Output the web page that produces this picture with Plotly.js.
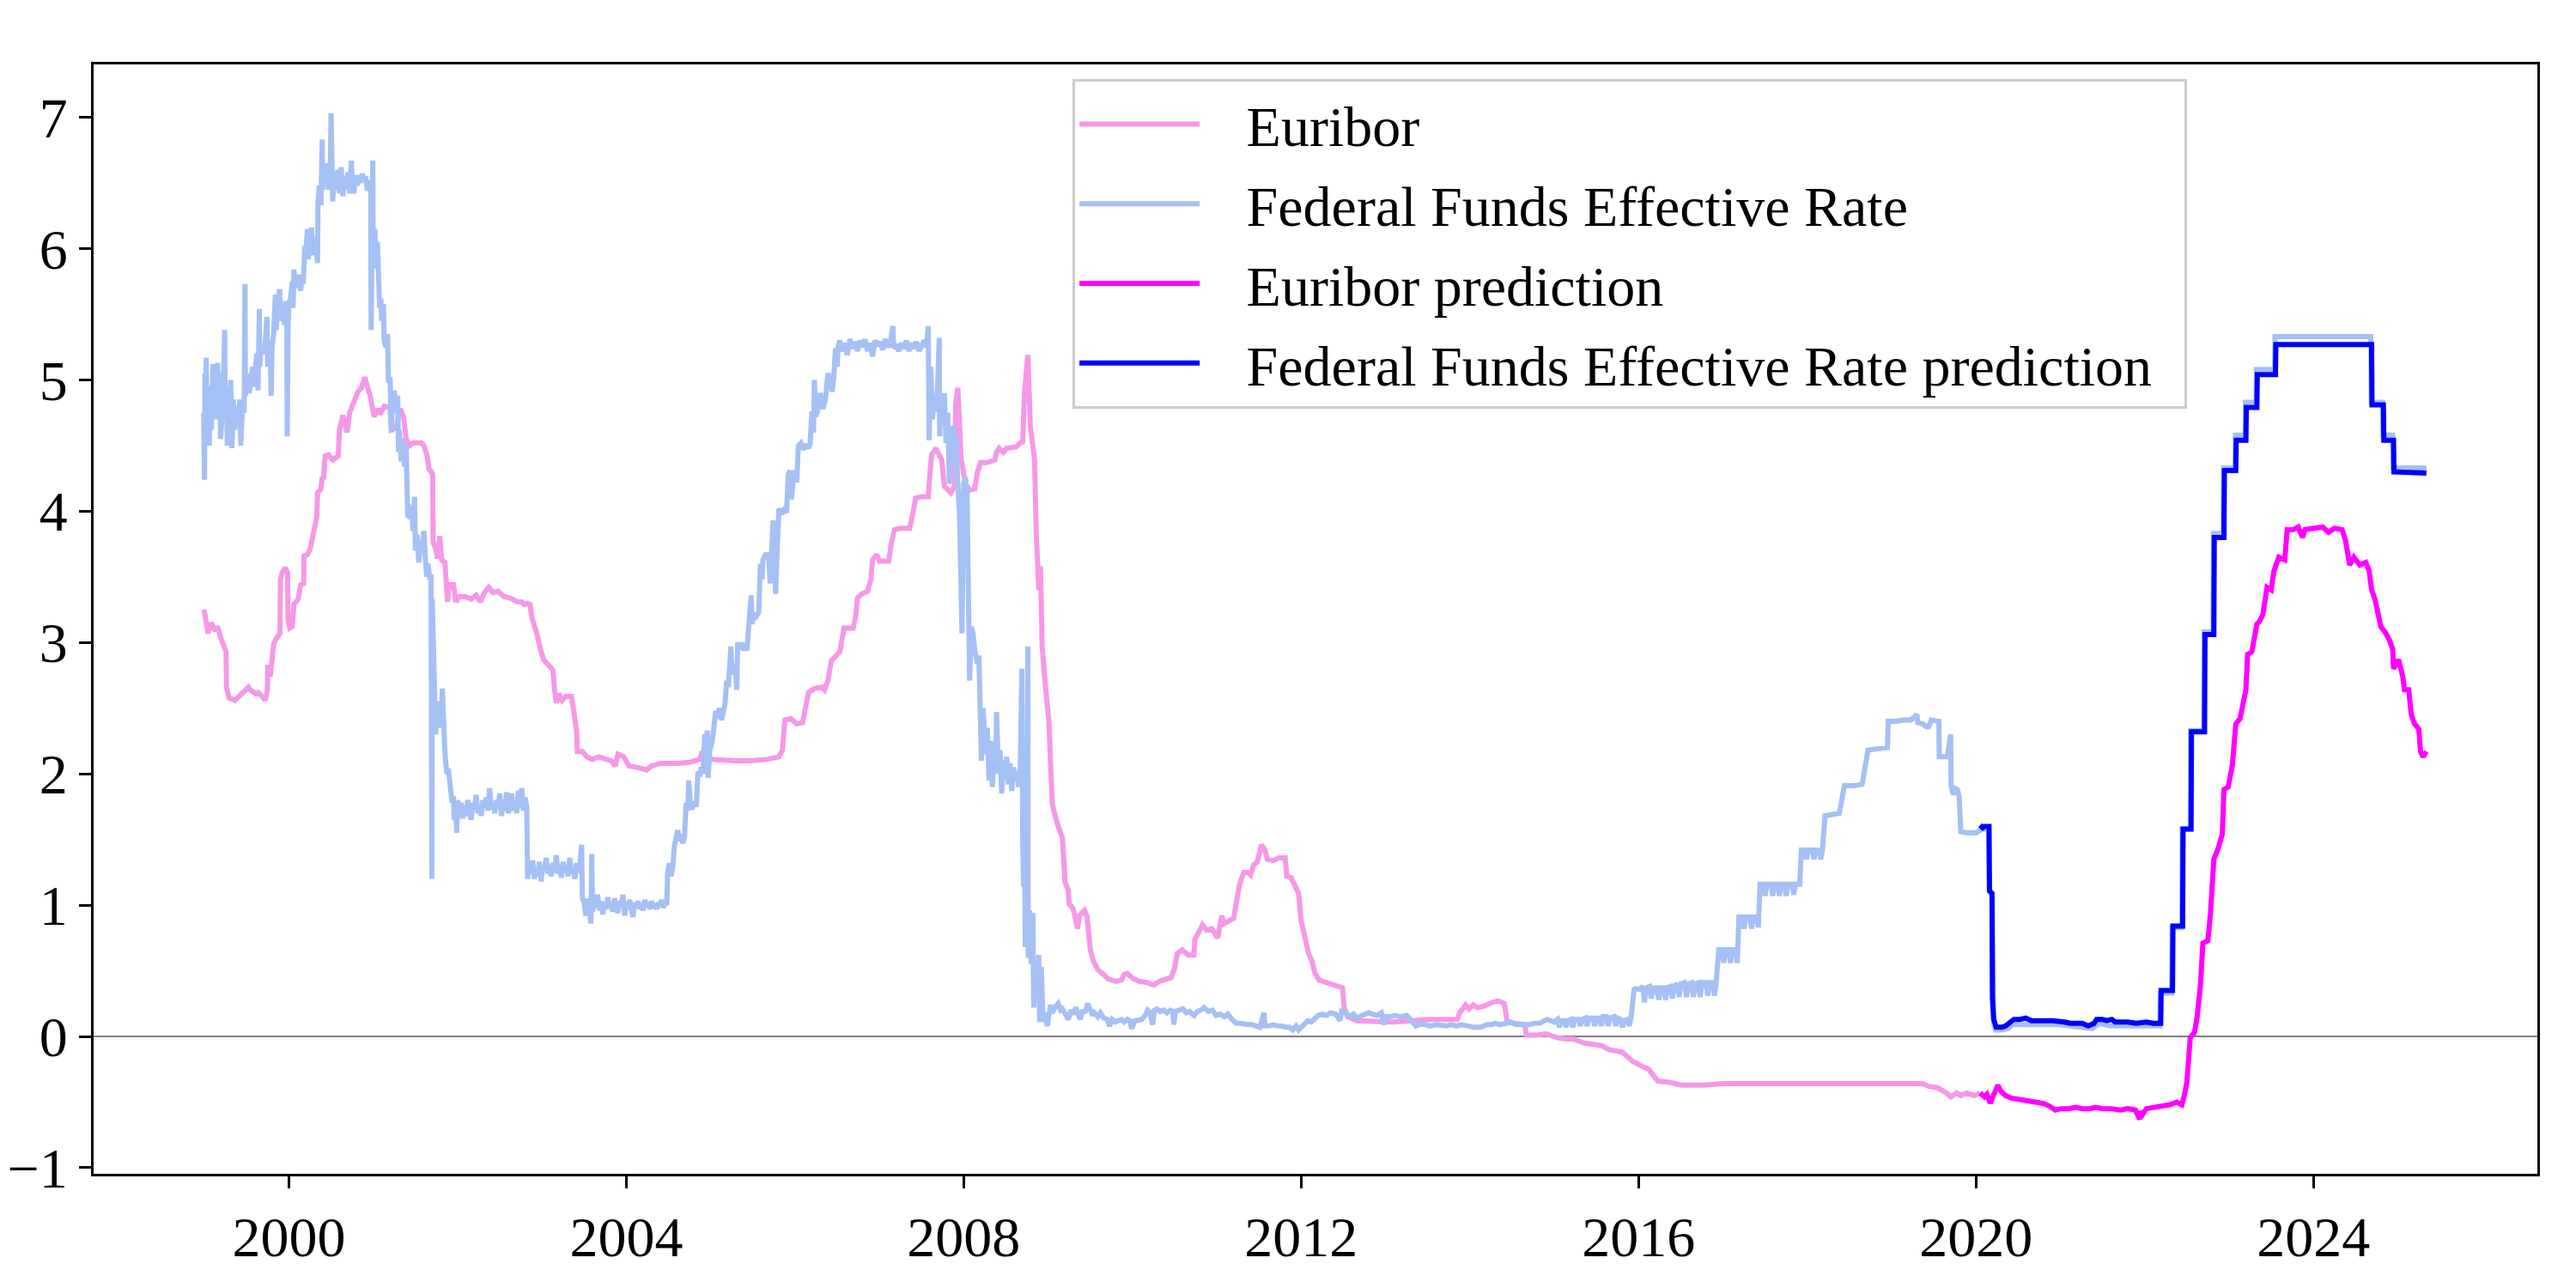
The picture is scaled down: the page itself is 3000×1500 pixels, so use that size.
<!DOCTYPE html>
<html>
<head>
<meta charset="utf-8">
<script src="https://cdn.plot.ly/plotly-3.0.1.min.js"></script>
<style>html,body{margin:0;padding:0;background:#fff;}#chart{width:3000px;height:1500px;}</style>
</head>
<body>
<div id="chart"></div>
<script>
// ---- data: [decimal year, rate %] ----
const euribor = [
[1998.99,3.25],[1999.01,3.20],[1999.04,3.07],[1999.08,3.15],[1999.12,3.10],[1999.16,3.11],[1999.19,3.04],[1999.22,2.99],[1999.255,2.93],[1999.26,2.66],[1999.29,2.58],[1999.36,2.56],[1999.43,2.60],[1999.48,2.64],[1999.52,2.66],[1999.54,2.64],[1999.61,2.61],[1999.64,2.62],[1999.68,2.59],[1999.72,2.56],[1999.745,2.64],[1999.75,2.83],[1999.78,2.74],[1999.80,2.90],[1999.82,2.99],[1999.85,3.03],[1999.895,3.07],[1999.90,3.48],[1999.92,3.53],[1999.955,3.57],[1999.985,3.53],[1999.99,3.17],[2000.01,3.11],[2000.04,3.12],[2000.06,3.29],[2000.11,3.33],[2000.14,3.44],[2000.175,3.45],[2000.18,3.66],[2000.22,3.67],[2000.25,3.71],[2000.27,3.77],[2000.31,3.91],[2000.33,3.95],[2000.34,4.14],[2000.38,4.17],[2000.395,4.26],[2000.41,4.24],[2000.43,4.42],[2000.47,4.43],[2000.52,4.39],[2000.585,4.42],[2000.60,4.62],[2000.64,4.73],[2000.69,4.60],[2000.72,4.75],[2000.75,4.80],[2000.82,4.91],[2000.86,4.94],[2000.90,5.02],[2000.93,4.95],[2000.96,4.89],[2001.01,4.72],[2001.05,4.78],[2001.08,4.74],[2001.13,4.80],[2001.20,4.79],[2001.215,4.62],[2001.25,4.63],[2001.28,4.66],[2001.32,4.78],[2001.36,4.72],[2001.39,4.55],[2001.43,4.50],[2001.47,4.52],[2001.57,4.52],[2001.60,4.50],[2001.64,4.42],[2001.66,4.32],[2001.68,4.31],[2001.705,4.28],[2001.71,3.76],[2001.74,3.72],[2001.76,3.64],[2001.79,3.81],[2001.81,3.63],[2001.85,3.61],[2001.87,3.43],[2001.88,3.31],[2001.90,3.44],[2001.95,3.44],[2001.98,3.31],[2002.02,3.35],[2002.09,3.35],[2002.16,3.33],[2002.22,3.36],[2002.27,3.31],[2002.32,3.38],[2002.37,3.42],[2002.42,3.38],[2002.48,3.39],[2002.55,3.35],[2002.62,3.34],[2002.71,3.31],[2002.76,3.31],[2002.79,3.29],[2002.83,3.30],[2002.86,3.29],[2002.88,3.19],[2002.93,3.09],[2002.96,3.00],[2002.99,2.93],[2003.02,2.87],[2003.09,2.82],[2003.13,2.79],[2003.15,2.64],[2003.17,2.54],[2003.20,2.61],[2003.24,2.56],[2003.28,2.59],[2003.35,2.59],[2003.37,2.51],[2003.41,2.33],[2003.42,2.17],[2003.48,2.17],[2003.53,2.13],[2003.60,2.11],[2003.67,2.13],[2003.74,2.12],[2003.82,2.10],[2003.87,2.06],[2003.90,2.15],[2003.97,2.13],[2004.03,2.06],[2004.13,2.05],[2004.24,2.03],[2004.30,2.06],[2004.41,2.08],[2004.62,2.08],[2004.76,2.09],[2004.87,2.11],[2004.90,2.17],[2004.93,2.12],[2005.04,2.11],[2005.29,2.10],[2005.46,2.10],[2005.67,2.11],[2005.81,2.13],[2005.85,2.18],[2005.88,2.41],[2005.95,2.42],[2006.02,2.38],[2006.09,2.39],[2006.13,2.53],[2006.16,2.62],[2006.23,2.65],[2006.32,2.66],[2006.35,2.64],[2006.39,2.71],[2006.43,2.86],[2006.48,2.90],[2006.53,2.93],[2006.57,3.07],[2006.58,3.11],[2006.69,3.11],[2006.72,3.20],[2006.74,3.34],[2006.79,3.37],[2006.86,3.39],[2006.90,3.48],[2006.92,3.63],[2006.97,3.67],[2007.00,3.62],[2007.11,3.62],[2007.14,3.75],[2007.18,3.86],[2007.25,3.87],[2007.36,3.87],[2007.39,3.96],[2007.43,4.10],[2007.49,4.11],[2007.58,4.11],[2007.60,4.29],[2007.62,4.43],[2007.67,4.48],[2007.71,4.42],[2007.74,4.39],[2007.77,4.19],[2007.85,4.14],[2007.89,4.19],[2007.905,4.82],[2007.93,4.94],[2007.945,4.77],[2007.97,4.39],[2008.02,4.21],[2008.07,4.16],[2008.13,4.17],[2008.16,4.29],[2008.20,4.37],[2008.27,4.37],[2008.37,4.39],[2008.39,4.45],[2008.42,4.48],[2008.47,4.45],[2008.51,4.48],[2008.62,4.49],[2008.67,4.52],[2008.70,4.53],[2008.72,4.90],[2008.74,5.13],[2008.76,5.19],[2008.79,4.65],[2008.84,4.39],[2008.86,3.83],[2008.89,3.40],[2008.91,3.58],[2008.93,2.97],[2008.97,2.66],[2009.01,2.40],[2009.03,2.07],[2009.05,1.77],[2009.10,1.64],[2009.17,1.51],[2009.19,1.31],[2009.20,1.18],[2009.24,1.11],[2009.25,1.01],[2009.29,0.98],[2009.31,0.94],[2009.35,0.82],[2009.37,0.92],[2009.40,0.94],[2009.43,0.96],[2009.46,0.92],[2009.48,0.77],[2009.50,0.66],[2009.54,0.57],[2009.59,0.51],[2009.66,0.47],[2009.71,0.44],[2009.80,0.42],[2009.87,0.43],[2009.90,0.47],[2009.94,0.48],[2010.01,0.44],[2010.08,0.42],[2010.18,0.41],[2010.25,0.39],[2010.32,0.42],[2010.46,0.45],[2010.50,0.52],[2010.53,0.63],[2010.59,0.66],[2010.66,0.62],[2010.73,0.62],[2010.74,0.74],[2010.80,0.81],[2010.83,0.85],[2010.88,0.81],[2010.94,0.82],[2011.01,0.75],[2011.06,0.92],[2011.09,0.86],[2011.15,0.88],[2011.20,0.90],[2011.23,1.01],[2011.27,1.16],[2011.32,1.25],[2011.37,1.25],[2011.40,1.23],[2011.44,1.31],[2011.48,1.33],[2011.51,1.40],[2011.53,1.46],[2011.57,1.42],[2011.60,1.35],[2011.67,1.34],[2011.74,1.36],[2011.81,1.36],[2011.83,1.22],[2011.88,1.21],[2011.93,1.14],[2011.97,1.09],[2012.00,0.88],[2012.04,0.75],[2012.09,0.63],[2012.13,0.57],[2012.16,0.49],[2012.21,0.43],[2012.34,0.40],[2012.44,0.38],[2012.49,0.37],[2012.51,0.22],[2012.55,0.15],[2012.66,0.12],[2012.90,0.11],[2013.08,0.11],[2013.32,0.12],[2013.50,0.13],[2013.71,0.13],[2013.85,0.13],[2013.88,0.18],[2013.95,0.24],[2013.99,0.21],[2014.04,0.24],[2014.09,0.22],[2014.16,0.23],[2014.27,0.26],[2014.34,0.27],[2014.41,0.25],[2014.44,0.12],[2014.51,0.10],[2014.65,0.09],[2014.67,0.01],[2014.79,0.01],[2014.90,0.02],[2015.04,-0.01],[2015.14,-0.02],[2015.23,-0.02],[2015.35,-0.05],[2015.42,-0.06],[2015.56,-0.07],[2015.65,-0.10],[2015.81,-0.12],[2015.86,-0.15],[2015.93,-0.19],[2016.05,-0.23],[2016.12,-0.25],[2016.18,-0.30],[2016.23,-0.34],[2016.37,-0.35],[2016.51,-0.37],[2016.76,-0.37],[2017.00,-0.36],[2017.50,-0.36],[2018.00,-0.36],[2018.50,-0.36],[2019.00,-0.36],[2019.33,-0.355],[2019.37,-0.36],[2019.44,-0.38],[2019.54,-0.39],[2019.65,-0.43],[2019.70,-0.46],[2019.77,-0.43],[2019.82,-0.45],[2019.89,-0.43],[2019.98,-0.45],[2020.05,-0.43]
];
const fedFunds = [
[1998.99,4.75],[1999.00,4.24],[1999.005,5.05],[1999.01,4.70],[1999.02,5.17],[1999.03,4.60],[1999.045,4.95],[1999.055,4.50],[1999.07,4.90],[1999.08,4.62],[1999.10,5.12],[1999.11,4.75],[1999.13,5.10],[1999.14,4.70],[1999.155,5.13],[1999.165,4.78],[1999.18,5.05],[1999.19,4.55],[1999.215,4.80],[1999.24,5.38],[1999.245,4.70],[1999.26,4.95],[1999.27,4.50],[1999.285,4.93],[1999.30,4.62],[1999.31,5.00],[1999.325,4.48],[1999.34,4.85],[1999.36,4.62],[1999.38,4.80],[1999.40,4.72],[1999.42,4.85],[1999.43,4.50],[1999.45,4.80],[1999.47,4.75],[1999.48,5.73],[1999.485,4.88],[1999.50,4.95],[1999.52,5.05],[1999.53,4.90],[1999.55,5.02],[1999.57,5.10],[1999.58,4.95],[1999.60,5.15],[1999.62,5.20],[1999.635,4.92],[1999.65,5.54],[1999.655,5.10],[1999.67,5.25],[1999.70,5.20],[1999.72,5.28],[1999.74,5.48],[1999.75,5.10],[1999.775,5.30],[1999.79,4.88],[1999.80,5.25],[1999.82,5.35],[1999.84,5.65],[1999.85,5.38],[1999.87,5.60],[1999.89,5.69],[1999.90,5.45],[1999.92,5.55],[1999.95,5.42],[1999.96,5.60],[1999.975,5.50],[1999.98,4.57],[1999.99,5.40],[2000.00,5.58],[2000.02,5.62],[2000.04,5.75],[2000.05,5.55],[2000.06,5.84],[2000.08,5.70],[2000.10,5.80],[2000.12,5.72],[2000.14,5.68],[2000.16,5.80],[2000.17,5.73],[2000.19,6.02],[2000.20,5.95],[2000.22,6.15],[2000.23,5.92],[2000.25,6.10],[2000.27,6.16],[2000.28,5.95],[2000.30,6.08],[2000.32,6.05],[2000.34,5.89],[2000.345,6.35],[2000.36,6.48],[2000.38,6.33],[2000.395,6.83],[2000.40,6.45],[2000.42,6.62],[2000.43,6.50],[2000.45,6.65],[2000.47,6.45],[2000.49,6.55],[2000.50,7.03],[2000.505,6.48],[2000.52,6.36],[2000.54,6.58],[2000.56,6.45],[2000.58,6.60],[2000.60,6.42],[2000.62,6.62],[2000.64,6.40],[2000.66,6.55],[2000.68,6.45],[2000.70,6.58],[2000.72,6.42],[2000.74,6.67],[2000.75,6.50],[2000.77,6.42],[2000.79,6.56],[2000.81,6.48],[2000.83,6.56],[2000.85,6.50],[2000.87,6.57],[2000.89,6.52],[2000.91,6.55],[2000.93,6.44],[2000.95,6.52],[2000.97,6.45],[2000.975,5.38],[2000.985,6.00],[2000.995,6.67],[2001.00,5.95],[2001.02,6.15],[2001.03,5.85],[2001.05,6.05],[2001.06,5.80],[2001.075,5.55],[2001.09,5.62],[2001.10,5.45],[2001.12,5.58],[2001.13,5.30],[2001.15,5.25],[2001.17,5.35],[2001.18,4.98],[2001.20,5.02],[2001.215,4.60],[2001.23,4.85],[2001.25,4.92],[2001.27,4.75],[2001.29,4.88],[2001.30,4.45],[2001.31,4.62],[2001.33,4.38],[2001.35,4.55],[2001.37,4.34],[2001.39,4.50],[2001.40,4.20],[2001.41,3.95],[2001.42,4.05],[2001.44,3.94],[2001.46,4.02],[2001.47,3.85],[2001.49,4.11],[2001.50,3.70],[2001.52,3.82],[2001.54,3.61],[2001.56,3.78],[2001.58,3.68],[2001.60,3.85],[2001.62,3.62],[2001.635,3.50],[2001.65,3.60],[2001.67,3.48],[2001.685,3.52],[2001.69,3.05],[2001.695,1.20],[2001.70,3.33],[2001.71,2.95],[2001.72,3.10],[2001.73,2.70],[2001.74,2.30],[2001.75,2.55],[2001.77,2.48],[2001.79,2.52],[2001.80,2.35],[2001.82,2.65],[2001.83,2.41],[2001.845,2.23],[2001.86,2.08],[2001.875,2.00],[2001.89,2.04],[2001.90,1.96],[2001.92,1.88],[2001.935,1.78],[2001.95,1.83],[2001.96,1.65],[2001.975,1.75],[2001.99,1.55],[2002.00,1.80],[2002.02,1.70],[2002.04,1.78],[2002.06,1.66],[2002.08,1.76],[2002.10,1.68],[2002.12,1.80],[2002.14,1.72],[2002.16,1.65],[2002.18,1.78],[2002.20,1.73],[2002.22,1.84],[2002.24,1.70],[2002.26,1.76],[2002.28,1.68],[2002.30,1.80],[2002.32,1.74],[2002.34,1.82],[2002.36,1.72],[2002.38,1.89],[2002.40,1.73],[2002.42,1.78],[2002.44,1.70],[2002.46,1.80],[2002.48,1.74],[2002.50,1.85],[2002.52,1.68],[2002.54,1.77],[2002.56,1.72],[2002.58,1.86],[2002.60,1.70],[2002.62,1.75],[2002.64,1.85],[2002.66,1.72],[2002.68,1.78],[2002.70,1.70],[2002.72,1.87],[2002.74,1.74],[2002.76,1.89],[2002.78,1.72],[2002.80,1.82],[2002.82,1.75],[2002.83,1.20],[2002.85,1.30],[2002.87,1.24],[2002.89,1.34],[2002.91,1.20],[2002.93,1.28],[2002.95,1.22],[2002.97,1.33],[2002.99,1.18],[2003.01,1.30],[2003.03,1.26],[2003.05,1.36],[2003.07,1.24],[2003.09,1.30],[2003.11,1.22],[2003.13,1.32],[2003.15,1.25],[2003.17,1.38],[2003.19,1.24],[2003.21,1.30],[2003.23,1.21],[2003.25,1.33],[2003.27,1.25],[2003.29,1.30],[2003.31,1.22],[2003.33,1.36],[2003.35,1.24],[2003.37,1.28],[2003.39,1.20],[2003.41,1.32],[2003.43,1.25],[2003.45,1.30],[2003.47,1.46],[2003.48,1.05],[2003.50,1.02],[2003.52,0.92],[2003.54,1.05],[2003.56,0.98],[2003.58,0.86],[2003.59,1.39],[2003.60,0.95],[2003.62,1.05],[2003.64,0.98],[2003.66,1.08],[2003.68,0.96],[2003.70,1.03],[2003.72,0.93],[2003.74,1.02],[2003.76,0.97],[2003.78,1.06],[2003.80,0.98],[2003.82,1.02],[2003.84,0.95],[2003.86,1.05],[2003.88,1.00],[2003.90,0.94],[2003.92,1.03],[2003.94,0.98],[2003.96,1.08],[2003.98,0.92],[2004.00,1.02],[2004.02,0.97],[2004.04,1.04],[2004.06,0.99],[2004.08,0.91],[2004.10,1.02],[2004.12,0.98],[2004.14,1.03],[2004.16,0.97],[2004.18,1.01],[2004.20,0.96],[2004.22,1.04],[2004.24,0.99],[2004.26,1.02],[2004.28,0.97],[2004.30,1.03],[2004.32,0.98],[2004.34,1.01],[2004.36,0.97],[2004.38,1.02],[2004.40,0.99],[2004.42,1.04],[2004.44,0.98],[2004.46,1.02],[2004.48,1.00],[2004.49,1.25],[2004.51,1.32],[2004.53,1.22],[2004.55,1.28],[2004.57,1.45],[2004.59,1.52],[2004.61,1.57],[2004.63,1.49],[2004.65,1.54],[2004.67,1.47],[2004.69,1.52],[2004.71,1.78],[2004.73,1.72],[2004.74,1.95],[2004.76,1.77],[2004.78,1.73],[2004.80,1.79],[2004.83,1.75],[2004.85,2.02],[2004.87,1.98],[2004.89,2.05],[2004.91,2.00],[2004.93,2.30],[2004.95,2.25],[2004.96,2.33],[2004.97,1.97],[2004.99,2.18],[2005.02,2.25],[2005.06,2.48],[2005.08,2.42],[2005.10,2.50],[2005.13,2.41],[2005.15,2.48],[2005.17,2.53],[2005.19,2.71],[2005.21,2.66],[2005.24,2.97],[2005.25,2.80],[2005.27,2.76],[2005.29,2.84],[2005.31,2.64],[2005.32,3.00],[2005.35,2.95],[2005.37,3.00],[2005.39,2.94],[2005.41,2.98],[2005.43,2.94],[2005.46,3.19],[2005.48,3.36],[2005.49,3.14],[2005.51,3.22],[2005.54,3.20],[2005.57,3.23],[2005.59,3.60],[2005.61,3.48],[2005.62,3.63],[2005.66,3.68],[2005.69,3.63],[2005.705,3.45],[2005.72,3.66],[2005.74,3.93],[2005.755,3.70],[2005.77,3.37],[2005.79,3.73],[2005.81,4.02],[2005.84,3.98],[2005.87,4.01],[2005.90,3.99],[2005.92,4.28],[2005.94,4.31],[2005.96,4.09],[2005.98,4.26],[2006.00,4.31],[2006.02,4.22],[2006.04,4.50],[2006.07,4.52],[2006.10,4.47],[2006.13,4.51],[2006.16,4.48],[2006.18,4.52],[2006.20,4.76],[2006.22,4.60],[2006.23,5.00],[2006.245,4.72],[2006.27,4.77],[2006.30,4.90],[2006.33,4.78],[2006.36,4.85],[2006.39,5.05],[2006.42,5.00],[2006.44,4.91],[2006.46,5.02],[2006.48,5.24],[2006.50,5.10],[2006.51,5.25],[2006.53,5.30],[2006.56,5.22],[2006.59,5.28],[2006.62,5.19],[2006.65,5.31],[2006.68,5.24],[2006.71,5.29],[2006.74,5.22],[2006.77,5.30],[2006.80,5.25],[2006.83,5.31],[2006.86,5.22],[2006.89,5.28],[2006.92,5.18],[2006.95,5.30],[2006.98,5.26],[2007.01,5.29],[2007.04,5.23],[2007.07,5.31],[2007.10,5.25],[2007.13,5.28],[2007.16,5.41],[2007.17,5.24],[2007.20,5.27],[2007.23,5.22],[2007.26,5.28],[2007.29,5.24],[2007.32,5.30],[2007.35,5.22],[2007.38,5.28],[2007.41,5.24],[2007.44,5.29],[2007.47,5.22],[2007.50,5.27],[2007.53,5.30],[2007.56,5.25],[2007.58,5.41],[2007.59,4.54],[2007.61,5.10],[2007.63,4.70],[2007.65,4.88],[2007.67,4.76],[2007.69,4.95],[2007.71,5.32],[2007.715,4.57],[2007.73,4.85],[2007.75,4.65],[2007.77,4.90],[2007.79,4.52],[2007.81,4.75],[2007.83,4.21],[2007.85,4.55],[2007.88,4.65],[2007.90,4.35],[2007.91,4.57],[2007.93,4.21],[2007.95,3.98],[2007.98,3.07],[2008.00,4.21],[2008.02,4.26],[2008.04,4.14],[2008.05,3.63],[2008.07,2.71],[2008.09,3.12],[2008.11,3.07],[2008.13,2.95],[2008.16,2.84],[2008.18,2.90],[2008.20,2.53],[2008.21,2.10],[2008.23,2.50],[2008.24,2.35],[2008.26,2.15],[2008.28,2.35],[2008.30,1.95],[2008.32,2.25],[2008.34,1.90],[2008.36,2.20],[2008.38,2.05],[2008.39,2.47],[2008.41,2.00],[2008.43,2.18],[2008.45,1.85],[2008.47,2.10],[2008.49,1.95],[2008.51,2.13],[2008.53,1.92],[2008.55,2.08],[2008.57,1.87],[2008.59,2.05],[2008.61,1.95],[2008.63,2.02],[2008.65,1.90],[2008.67,2.05],[2008.69,2.80],[2008.70,1.44],[2008.71,1.14],[2008.72,1.55],[2008.73,0.68],[2008.75,0.95],[2008.76,2.97],[2008.765,0.60],[2008.78,0.96],[2008.80,0.55],[2008.82,0.94],[2008.83,0.22],[2008.85,0.48],[2008.87,0.30],[2008.89,0.62],[2008.90,0.11],[2008.92,0.53],[2008.94,0.11],[2008.96,0.18],[2008.99,0.08],[2009.01,0.15],[2009.03,0.24],[2009.05,0.18],[2009.08,0.22],[2009.12,0.25],[2009.15,0.20],[2009.17,0.21],[2009.20,0.17],[2009.24,0.13],[2009.27,0.20],[2009.30,0.17],[2009.33,0.22],[2009.36,0.16],[2009.38,0.13],[2009.41,0.20],[2009.44,0.18],[2009.47,0.25],[2009.50,0.19],[2009.53,0.16],[2009.55,0.18],[2009.59,0.15],[2009.62,0.18],[2009.66,0.14],[2009.70,0.13],[2009.73,0.08],[2009.76,0.13],[2009.80,0.11],[2009.83,0.12],[2009.87,0.13],[2009.90,0.11],[2009.94,0.13],[2009.97,0.12],[2009.99,0.06],[2010.03,0.12],[2010.07,0.13],[2010.11,0.13],[2010.15,0.16],[2010.18,0.20],[2010.21,0.18],[2010.24,0.09],[2010.26,0.20],[2010.29,0.21],[2010.33,0.19],[2010.37,0.20],[2010.41,0.18],[2010.45,0.20],[2010.48,0.19],[2010.49,0.09],[2010.51,0.19],[2010.55,0.20],[2010.60,0.21],[2010.64,0.18],[2010.68,0.19],[2010.73,0.16],[2010.77,0.19],[2010.81,0.20],[2010.85,0.22],[2010.90,0.19],[2010.95,0.20],[2010.99,0.16],[2011.04,0.17],[2011.09,0.15],[2011.13,0.17],[2011.18,0.13],[2011.23,0.10],[2011.28,0.10],[2011.33,0.09],[2011.37,0.09],[2011.42,0.09],[2011.47,0.08],[2011.51,0.07],[2011.56,0.18],[2011.57,0.08],[2011.62,0.08],[2011.67,0.09],[2011.72,0.08],[2011.77,0.08],[2011.82,0.07],[2011.86,0.07],[2011.90,0.05],[2011.94,0.08],[2011.97,0.05],[2012.01,0.08],[2012.04,0.10],[2012.08,0.12],[2012.12,0.11],[2012.16,0.14],[2012.20,0.16],[2012.25,0.17],[2012.30,0.16],[2012.35,0.18],[2012.41,0.17],[2012.46,0.12],[2012.48,0.19],[2012.53,0.18],[2012.58,0.15],[2012.62,0.17],[2012.67,0.14],[2012.72,0.16],[2012.77,0.17],[2012.80,0.18],[2012.85,0.17],[2012.90,0.16],[2012.95,0.18],[2012.98,0.09],[2013.00,0.15],[2013.05,0.15],[2013.11,0.16],[2013.18,0.15],[2013.25,0.16],[2013.30,0.13],[2013.36,0.08],[2013.42,0.10],[2013.48,0.09],[2013.53,0.08],[2013.60,0.09],[2013.66,0.08],[2013.72,0.08],[2013.78,0.09],[2013.84,0.08],[2013.90,0.09],[2013.95,0.08],[2014.00,0.07],[2014.05,0.07],[2014.13,0.07],[2014.20,0.09],[2014.26,0.09],[2014.30,0.10],[2014.36,0.09],[2014.42,0.10],[2014.48,0.11],[2014.55,0.09],[2014.60,0.09],[2014.65,0.09],[2014.70,0.09],[2014.76,0.10],[2014.83,0.10],[2014.88,0.12],[2014.92,0.13],[2014.96,0.12],[2015.00,0.11],[2015.04,0.13],[2015.06,0.07],[2015.08,0.12],[2015.12,0.12],[2015.14,0.07],[2015.16,0.12],[2015.20,0.13],[2015.22,0.07],[2015.24,0.13],[2015.29,0.13],[2015.31,0.08],[2015.33,0.13],[2015.37,0.14],[2015.39,0.08],[2015.41,0.14],[2015.46,0.14],[2015.48,0.08],[2015.50,0.14],[2015.54,0.14],[2015.56,0.08],[2015.58,0.15],[2015.62,0.15],[2015.64,0.08],[2015.66,0.14],[2015.71,0.15],[2015.73,0.08],[2015.75,0.14],[2015.79,0.13],[2015.81,0.07],[2015.83,0.12],[2015.87,0.13],[2015.89,0.08],[2015.91,0.14],[2015.95,0.37],[2015.97,0.36],[2016.01,0.36],[2016.05,0.38],[2016.07,0.26],[2016.09,0.37],[2016.13,0.38],[2016.15,0.29],[2016.17,0.37],[2016.21,0.37],[2016.24,0.28],[2016.26,0.37],[2016.30,0.37],[2016.32,0.28],[2016.34,0.37],[2016.38,0.38],[2016.40,0.29],[2016.42,0.38],[2016.46,0.40],[2016.48,0.30],[2016.50,0.40],[2016.54,0.41],[2016.57,0.30],[2016.59,0.40],[2016.63,0.41],[2016.65,0.30],[2016.67,0.40],[2016.71,0.41],[2016.73,0.30],[2016.75,0.41],[2016.80,0.41],[2016.82,0.31],[2016.84,0.41],[2016.88,0.41],[2016.90,0.31],[2016.92,0.41],[2016.95,0.66],[2016.99,0.66],[2017.01,0.56],[2017.03,0.66],[2017.07,0.66],[2017.09,0.56],[2017.11,0.66],[2017.15,0.66],[2017.17,0.56],[2017.19,0.91],[2017.23,0.91],[2017.25,0.82],[2017.27,0.91],[2017.32,0.91],[2017.34,0.82],[2017.36,0.91],[2017.40,0.91],[2017.42,0.83],[2017.44,1.16],[2017.48,1.16],[2017.50,1.07],[2017.52,1.16],[2017.57,1.16],[2017.59,1.07],[2017.61,1.16],[2017.65,1.16],[2017.67,1.07],[2017.69,1.16],[2017.73,1.16],[2017.75,1.07],[2017.77,1.16],[2017.82,1.16],[2017.84,1.08],[2017.86,1.16],[2017.91,1.16],[2017.93,1.42],[2017.97,1.42],[2017.99,1.35],[2018.01,1.42],[2018.06,1.42],[2018.08,1.35],[2018.10,1.42],[2018.14,1.42],[2018.16,1.35],[2018.18,1.42],[2018.21,1.68],[2018.30,1.69],[2018.38,1.70],[2018.44,1.91],[2018.55,1.91],[2018.65,1.92],[2018.72,2.18],[2018.82,2.19],[2018.95,2.20],[2018.96,2.40],[2019.05,2.40],[2019.15,2.41],[2019.23,2.41],[2019.28,2.44],[2019.30,2.45],[2019.31,2.39],[2019.37,2.38],[2019.41,2.36],[2019.44,2.36],[2019.47,2.41],[2019.52,2.40],[2019.56,2.40],[2019.565,2.13],[2019.60,2.13],[2019.66,2.13],[2019.70,2.30],[2019.705,1.91],[2019.73,1.84],[2019.75,1.89],[2019.78,1.88],[2019.80,1.83],[2019.82,1.56],[2019.90,1.55],[2020.00,1.55],[2020.07,1.58],[2020.15,1.58],[2020.16,1.10],[2020.19,1.09],[2020.20,0.25],[2020.21,0.10],[2020.23,0.05],[2020.30,0.05],[2020.38,0.06],[2020.43,0.09],[2020.55,0.09],[2020.70,0.09],[2020.85,0.09],[2021.00,0.09],[2021.10,0.08],[2021.20,0.07],[2021.30,0.06],[2021.38,0.06],[2021.46,0.10],[2021.60,0.08],[2021.75,0.08],[2021.90,0.08],[2022.00,0.08],[2022.10,0.08],[2022.18,0.08],[2022.185,0.33],[2022.32,0.33],[2022.325,0.83],[2022.44,0.83],[2022.445,1.58],[2022.54,1.58],[2022.545,2.33],[2022.70,2.33],[2022.705,3.08],[2022.81,3.08],[2022.815,3.83],[2022.93,3.83],[2022.935,4.33],[2023.07,4.33],[2023.075,4.58],[2023.19,4.58],[2023.195,4.83],[2023.32,4.83],[2023.325,5.08],[2023.54,5.08],[2023.545,5.33],[2024.68,5.33],[2024.685,4.83],[2024.82,4.83],[2024.825,4.58],[2024.94,4.58],[2024.945,4.33],[2025.34,4.33]
];
const euriborPrediction = [
[2020.05,-0.43],[2020.08,-0.45],[2020.10,-0.46],[2020.13,-0.44],[2020.17,-0.51],[2020.20,-0.46],[2020.22,-0.42],[2020.26,-0.37],[2020.28,-0.40],[2020.30,-0.42],[2020.35,-0.45],[2020.42,-0.47],[2020.52,-0.48],[2020.60,-0.49],[2020.66,-0.50],[2020.73,-0.50],[2020.80,-0.51],[2020.87,-0.53],[2020.94,-0.56],[2021.01,-0.55],[2021.10,-0.55],[2021.18,-0.54],[2021.26,-0.55],[2021.35,-0.55],[2021.42,-0.54],[2021.50,-0.55],[2021.60,-0.55],[2021.71,-0.56],[2021.80,-0.55],[2021.89,-0.56],[2021.94,-0.63],[2021.96,-0.57],[2021.98,-0.59],[2022.02,-0.55],[2022.10,-0.54],[2022.20,-0.53],[2022.30,-0.52],[2022.38,-0.50],[2022.44,-0.52],[2022.47,-0.45],[2022.50,-0.35],[2022.54,-0.01],[2022.59,0.03],[2022.62,0.14],[2022.66,0.38],[2022.69,0.71],[2022.75,0.73],[2022.78,0.94],[2022.82,1.35],[2022.87,1.43],[2022.92,1.54],[2022.94,1.88],[2022.99,1.90],[2023.04,2.07],[2023.08,2.38],[2023.13,2.42],[2023.17,2.57],[2023.20,2.64],[2023.22,2.91],[2023.27,2.93],[2023.33,3.14],[2023.36,3.16],[2023.40,3.21],[2023.45,3.42],[2023.50,3.40],[2023.53,3.54],[2023.59,3.65],[2023.66,3.63],[2023.69,3.86],[2023.76,3.86],[2023.82,3.88],[2023.87,3.80],[2023.90,3.86],[2024.01,3.87],[2024.11,3.88],[2024.18,3.84],[2024.25,3.87],[2024.34,3.86],[2024.38,3.78],[2024.43,3.59],[2024.48,3.65],[2024.55,3.59],[2024.62,3.61],[2024.66,3.55],[2024.69,3.40],[2024.73,3.33],[2024.76,3.25],[2024.80,3.12],[2024.85,3.08],[2024.90,3.02],[2024.94,2.95],[2024.95,2.80],[2025.01,2.87],[2025.06,2.74],[2025.08,2.64],[2025.13,2.64],[2025.16,2.45],[2025.20,2.38],[2025.25,2.34],[2025.27,2.17],[2025.30,2.13],[2025.34,2.17]
];
const fedFundsPrediction = [
[2020.05,1.61],[2020.08,1.59],[2020.10,1.60],[2020.155,1.60],[2020.16,1.11],[2020.19,1.09],[2020.195,0.29],[2020.21,0.13],[2020.24,0.07],[2020.31,0.07],[2020.35,0.08],[2020.40,0.10],[2020.45,0.13],[2020.52,0.13],[2020.59,0.14],[2020.66,0.12],[2020.80,0.12],[2020.91,0.12],[2021.05,0.11],[2021.12,0.10],[2021.26,0.10],[2021.33,0.08],[2021.40,0.10],[2021.43,0.13],[2021.50,0.13],[2021.55,0.12],[2021.61,0.13],[2021.65,0.11],[2021.80,0.11],[2021.90,0.10],[2022.02,0.11],[2022.10,0.10],[2022.19,0.10],[2022.195,0.35],[2022.33,0.35],[2022.335,0.84],[2022.45,0.84],[2022.455,1.58],[2022.55,1.58],[2022.555,2.32],[2022.71,2.32],[2022.715,3.06],[2022.82,3.06],[2022.825,3.80],[2022.94,3.80],[2022.945,4.31],[2023.08,4.31],[2023.085,4.54],[2023.20,4.54],[2023.205,4.79],[2023.33,4.79],[2023.335,5.04],[2023.55,5.04],[2023.555,5.27],[2024.69,5.27],[2024.695,4.81],[2024.83,4.81],[2024.835,4.54],[2024.95,4.54],[2024.955,4.30],[2025.34,4.29]
];
const seriesNames = ["Euribor", "Federal Funds Effective Rate", "Euribor prediction", "Federal Funds Effective Rate prediction"];
const seriesColors = ["#F598E8", "#A5C0F4", "#FF00FF", "#0000FF"];
const xTickVals = [2000, 2004, 2008, 2012, 2016, 2020, 2024];
const xTickText = ["2000", "2004", "2008", "2012", "2016", "2020", "2024"];
const yTickVals = [-1, 0, 1, 2, 3, 4, 5, 6, 7];

const allSeries = [euribor, fedFunds, euriborPrediction, fedFundsPrediction];
const FONT = "Liberation Serif, Times New Roman, serif";
const LEGEND_GAP = "\u2002\u2005"; // visual gap between legend line sample and label
const LEGEND_PAD = "\u2002";       // right padding inside legend frame

const traces = allSeries.map((s, i) => ({
  type: "scatter",
  mode: "lines",
  name: LEGEND_GAP + seriesNames[i] + LEGEND_PAD,
  x: s.map(p => p[0]),
  y: s.map(p => p[1]),
  line: {color: seriesColors[i], width: 6},
  legendgroup: "g" + i,
  hoverinfo: "skip"
}));

const layout = {
  width: 3000, height: 1500,
  margin: {l: 109, r: 45, t: 75, b: 133},
  paper_bgcolor: "#ffffff",
  plot_bgcolor: "#ffffff",
  font: {family: FONT, size: 66, color: "#000000"},
  showlegend: true,
  legend: {
    x: 0.4006, y: 0.9868, xanchor: "left", yanchor: "top",
    bgcolor: "rgba(255,255,255,0.8)",
    bordercolor: "#cccccc", borderwidth: 3,
    font: {family: FONT, size: 66, color: "#000000"},
    itemwidth: 140,
    tracegroupgap: 4,
    traceorder: "grouped"
  },
  xaxis: {
    range: [1997.685, 2026.655],
    tickmode: "array", tickvals: xTickVals, ticktext: xTickText,
    showgrid: false, zeroline: false,
    showline: true, linecolor: "#000000", linewidth: 3, mirror: true,
    ticks: "outside", ticklen: 14, tickwidth: 3, tickcolor: "#000000",
    tickfont: {family: FONT, size: 66, color: "#000000"}
  },
  yaxis: {
    range: [-1.046, 7.403],
    tickmode: "array", tickvals: yTickVals,
    showgrid: false,
    zeroline: true, zerolinecolor: "#808080", zerolinewidth: 2,
    showline: true, linecolor: "#000000", linewidth: 3, mirror: true,
    ticks: "outside", ticklen: 14, tickwidth: 3, tickcolor: "#000000",
    tickfont: {family: FONT, size: 66, color: "#000000"}
  }
};

Plotly.newPlot("chart", traces, layout, {staticPlot: true, displayModeBar: false});
</script>
</body>
</html>
